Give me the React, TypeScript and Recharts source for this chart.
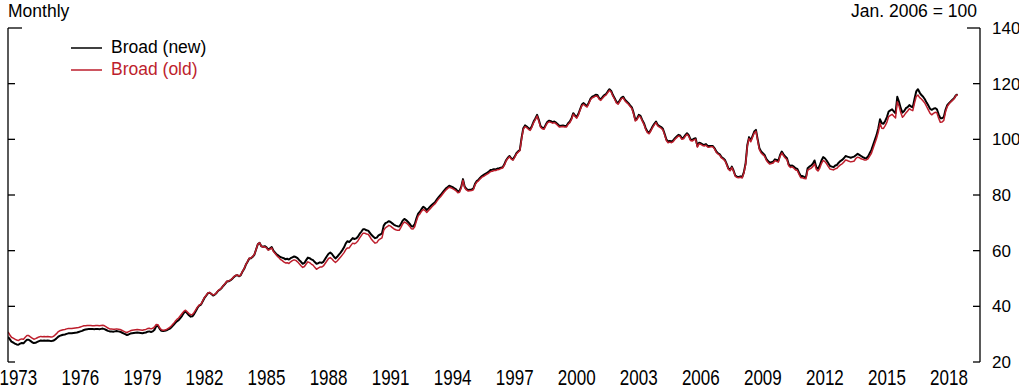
import { LineChart, Line, XAxis, YAxis, Legend } from "recharts";

const FONT = "'Liberation Sans', Arial, Helvetica, sans-serif";
const RED = "#bd1e2c";

// monthly values, Jan 1973 .. Dec 2018 (Jan. 2006 = 100)
const START_YEAR = 1973;

const broadNew = [
  29.0, 28.2, 27.3, 27.0, 26.6, 26.3, 26.2, 26.6, 26.8, 26.7, 27.4, 28.0, // 1973
  28.0, 27.6, 27.1, 26.8, 26.9, 27.2, 27.5, 27.7, 27.6, 27.7, 27.6, 27.7,
  27.6, 27.5, 27.6, 27.9, 28.4, 29.0, 29.4, 29.6, 29.8, 29.9, 30.1, 30.3,
  30.3, 30.3, 30.4, 30.5, 30.6, 30.8, 31.0, 31.2, 31.5, 31.7, 31.8, 31.9,
  31.9, 31.9, 31.8, 31.9, 31.9, 31.8, 31.9, 32.0, 31.8, 31.5, 31.2, 31.0,
  31.0, 30.9, 31.0, 31.1, 31.0, 30.9, 30.6, 30.3, 30.0, 29.7, 29.9, 30.2, // 1978
  30.3, 30.4, 30.5, 30.6, 30.5, 30.4, 30.3, 30.5, 30.6, 30.9, 31.0, 30.8,
  31.0, 31.6, 32.8, 33.0, 31.9, 31.2, 31.1, 31.2, 31.4, 31.7, 32.0, 32.6,
  33.3, 34.0, 34.6, 35.0, 35.8, 36.6, 37.6, 38.2, 37.5, 36.8, 36.3, 36.4,
  37.2, 38.3, 39.5, 40.3, 40.6, 41.8, 43.0, 43.8, 44.7, 44.9, 44.4, 43.9,
  44.2, 44.8, 45.6, 46.0, 46.6, 47.4, 48.1, 48.9, 49.0, 49.3, 49.8, 50.5, // 1983
  51.0, 51.2, 50.8, 51.1, 52.4, 53.4, 54.9, 56.0, 57.2, 57.3, 57.8, 58.6,
  60.5, 62.4, 62.8, 61.6, 61.4, 61.6, 61.2, 60.4, 60.8, 61.3, 60.0, 59.3,
  58.6, 58.2, 57.7, 57.5, 57.3, 56.9, 57.1, 56.8, 57.3, 57.6, 57.9, 57.7,
  57.3, 56.6, 56.0, 55.3, 55.6, 56.6, 57.5, 57.3, 56.9, 56.6, 55.9, 55.3,
  55.5, 55.8, 55.6, 56.0, 57.0, 58.0, 58.9, 59.3, 58.8, 57.9, 57.2, 57.8, // 1988
  58.6, 59.3, 60.2, 61.2, 62.6, 63.4, 63.1, 63.8, 64.5, 64.2, 64.4, 65.0,
  66.0, 66.8, 67.7, 67.7, 67.3, 67.2, 66.4, 65.6, 65.0, 64.5, 64.7, 65.5,
  65.8, 66.2, 69.0, 69.9, 70.2, 70.6, 70.3, 69.8, 69.3, 69.0, 68.8, 68.7,
  69.6, 70.8, 71.4, 71.0, 70.4, 69.7, 68.8, 68.7, 69.5, 71.6, 73.3, 74.0,
  75.0, 75.8, 75.3, 74.6, 75.2, 75.9, 76.5, 77.0, 77.6, 78.5, 79.3, 80.0, // 1993
  80.8, 81.6, 82.3, 82.8, 83.3, 83.1, 82.8, 82.4, 82.0, 81.3, 81.5, 83.0,
  85.7, 83.0, 82.2, 81.8, 81.9, 82.0, 82.3, 84.0, 85.0, 85.5, 86.2, 86.8,
  87.2, 87.6, 88.0, 88.4, 89.0, 89.1, 89.3, 89.2, 89.5, 89.6, 89.8, 90.0,
  91.0, 92.5, 93.4, 94.0, 93.2, 92.8, 93.8, 95.0, 95.7, 96.2, 100.5, 104.0,
  105.0, 104.6, 104.0, 103.6, 104.8, 106.4, 107.5, 108.8, 107.0, 104.8, 104.2, 104.0, // 1998
  105.2, 106.3, 106.7, 106.5, 106.2, 106.4, 106.0, 105.4, 104.8, 104.9, 105.0, 104.8,
  104.8, 105.8, 106.4, 107.6, 109.4, 108.6, 108.0, 109.2, 110.9, 112.5, 113.0, 112.4,
  112.0, 113.2, 114.6, 115.3, 115.6, 116.0, 115.9, 114.8, 114.4, 115.2, 115.9, 116.3,
  117.2, 118.0, 117.4, 115.9, 114.8, 113.5, 113.0, 114.0, 115.0, 115.3, 114.2, 113.6,
  113.0, 112.2, 111.5, 109.5, 107.0, 107.5, 108.8, 108.4, 107.0, 105.8, 104.0, 102.8, // 2003
  102.4, 103.4, 104.6, 105.6, 106.4, 105.2, 104.8, 104.4, 103.8, 102.0, 100.0, 99.2,
  99.4, 99.2, 99.6, 100.4, 101.0, 101.6, 101.4, 100.4, 100.6, 101.5, 102.2, 101.5,
  100.0, 99.8, 100.2, 100.4, 97.6, 98.8, 98.6, 98.2, 98.0, 98.3, 97.6, 97.6,
  97.6, 97.6, 96.8, 95.6, 95.0, 94.6, 93.6, 93.2, 92.6, 91.2, 89.6, 89.0,
  90.2, 88.8, 87.0, 86.6, 86.5, 86.7, 86.4, 88.2, 91.4, 98.0, 100.8, 99.6, // 2008
  101.2, 102.8, 103.4, 100.0, 96.8, 95.6, 95.0, 94.4, 93.0, 92.2, 91.6, 91.8,
  92.0, 92.8, 92.6, 92.3, 94.4, 95.6, 94.6, 93.8, 93.2, 91.0, 90.4, 90.6,
  90.2, 89.6, 89.4, 88.0, 86.8, 86.8, 86.5, 86.4, 89.6, 90.2, 90.6, 91.2,
  92.4, 90.0, 89.4, 90.6, 92.4, 93.6, 93.2, 92.4, 91.4, 90.4, 90.2, 90.0,
  90.6, 90.8, 91.6, 92.2, 92.6, 93.2, 94.0, 93.8, 93.6, 93.4, 93.6, 93.8, // 2013
  94.3, 94.8, 94.4, 94.0, 93.6, 93.3, 93.2, 93.8, 95.0, 96.2, 98.0, 99.8,
  101.6, 104.0, 107.2, 105.8, 105.6, 106.6, 108.0, 110.0, 110.4, 110.8, 110.0, 109.4,
  115.3, 113.5, 111.2, 109.6, 110.2, 111.2, 111.6, 112.3, 111.8, 111.5, 114.5, 117.2,
  118.0, 116.8, 115.9, 115.3, 114.4, 113.2, 112.2, 111.0, 110.6, 111.0, 111.2, 110.8,
  109.0, 107.6, 107.6, 108.0, 110.6, 112.3, 113.0, 113.6, 114.2, 114.8, 115.8, 116.2, // 2018
];

const broadOld = [
  30.8, 29.8, 28.9, 28.6, 28.2, 27.9, 27.7, 28.1, 28.3, 28.2, 28.9, 29.5, // 1973
  29.5, 29.0, 28.6, 28.2, 28.4, 28.7, 29.0, 29.2, 29.1, 29.2, 29.1, 29.2,
  29.1, 29.0, 29.1, 29.5, 30.1, 30.8, 31.2, 31.4, 31.6, 31.7, 31.9, 32.0,
  32.0, 32.0, 32.1, 32.2, 32.3, 32.4, 32.6, 32.8, 33.0, 33.0, 33.1, 33.1,
  33.1, 33.0, 33.0, 33.1, 33.1, 33.0, 33.1, 33.2, 33.0, 32.6, 32.2, 31.9,
  31.9, 31.8, 31.8, 31.9, 31.8, 31.7, 31.4, 31.1, 30.8, 30.6, 30.9, 31.2, // 1978
  31.4, 31.5, 31.6, 31.7, 31.6, 31.5, 31.4, 31.6, 31.7, 32.0, 32.1, 31.9,
  32.1, 32.6, 33.5, 33.4, 32.3, 31.6, 31.4, 31.5, 31.7, 32.1, 32.5, 33.1,
  33.8, 34.6, 35.3, 35.8, 36.6, 37.4, 38.2, 38.6, 38.0, 37.4, 37.0, 37.1,
  37.8, 38.8, 39.8, 40.5, 40.8, 42.0, 43.2, 44.0, 44.8, 45.0, 44.5, 44.1,
  44.3, 44.9, 45.7, 46.1, 46.7, 47.5, 48.2, 49.0, 49.1, 49.4, 49.9, 50.6, // 1983
  51.1, 51.3, 50.9, 51.2, 52.5, 53.5, 55.0, 56.1, 57.3, 57.4, 57.9, 58.7,
  60.5, 62.4, 62.8, 61.6, 61.3, 61.4, 61.0, 60.2, 60.5, 61.0, 59.7, 59.0,
  58.2, 57.6, 56.9, 56.5, 56.0, 55.6, 55.7, 55.4, 56.0, 56.4, 56.7, 56.5,
  56.0, 55.3, 54.6, 54.0, 54.3, 55.2, 56.0, 55.7, 55.2, 54.8, 54.0, 53.3,
  53.7, 54.1, 54.1, 54.5, 55.4, 56.3, 57.2, 57.5, 57.0, 56.3, 55.8, 56.3, // 1988
  57.0, 57.7, 58.5, 59.3, 60.4, 61.0, 61.0, 61.9, 62.7, 62.5, 62.8, 63.5,
  64.5, 65.4, 66.3, 66.3, 66.0, 65.9, 65.0, 64.0, 63.3, 62.7, 62.9, 63.8,
  64.2, 64.6, 67.3, 68.2, 68.6, 69.1, 68.8, 68.3, 67.8, 67.5, 67.3, 67.3,
  68.4, 69.6, 70.3, 70.0, 69.5, 68.8, 67.9, 67.8, 68.6, 70.7, 72.5, 73.2,
  74.2, 74.8, 74.4, 73.7, 74.4, 75.1, 75.8, 76.4, 77.0, 77.9, 78.7, 79.4, // 1993
  80.2, 81.0, 81.7, 82.3, 82.8, 82.6, 82.3, 81.9, 81.5, 80.8, 81.0, 82.6,
  85.3, 82.6, 81.8, 81.4, 81.5, 81.6, 81.9, 83.6, 84.6, 85.1, 85.8, 86.4,
  86.7, 87.1, 87.5, 87.9, 88.4, 88.5, 88.8, 88.8, 89.1, 89.2, 89.5, 89.7,
  90.7, 92.2, 93.1, 93.7, 92.9, 92.5, 93.5, 94.7, 95.4, 95.9, 100.1, 103.6,
  104.6, 104.2, 103.6, 103.2, 104.4, 106.0, 107.1, 108.4, 106.6, 104.4, 103.8, 103.6, // 1998
  104.8, 105.9, 106.3, 106.1, 105.8, 106.0, 105.6, 105.0, 104.4, 104.5, 104.6, 104.4,
  104.4, 105.4, 106.0, 107.2, 109.0, 108.2, 107.6, 108.8, 110.5, 112.1, 112.6, 112.0,
  111.6, 112.8, 114.2, 114.9, 115.2, 115.6, 115.5, 114.4, 114.0, 114.8, 115.5, 115.9,
  116.8, 117.6, 117.0, 115.5, 114.4, 113.1, 112.6, 113.6, 114.6, 114.9, 113.8, 113.2,
  112.6, 111.8, 111.1, 109.1, 106.6, 107.1, 108.4, 108.0, 106.6, 105.4, 103.6, 102.4, // 2003
  102.0, 103.0, 104.2, 105.2, 106.0, 104.8, 104.4, 104.0, 103.4, 101.6, 99.6, 98.8,
  99.0, 98.8, 99.2, 100.0, 100.6, 101.2, 101.0, 100.0, 100.2, 101.1, 101.8, 101.1,
  99.6, 99.4, 99.8, 100.0, 97.2, 98.4, 98.2, 97.8, 97.6, 97.9, 97.2, 97.2,
  97.3, 97.3, 96.5, 95.3, 94.7, 94.3, 93.3, 92.9, 92.3, 90.9, 89.3, 88.7,
  89.9, 88.5, 86.7, 86.3, 86.2, 86.4, 86.1, 87.9, 91.0, 97.6, 100.3, 99.1, // 2008
  100.7, 102.3, 102.9, 99.5, 96.3, 95.1, 94.5, 93.9, 92.5, 91.7, 91.1, 91.3,
  91.5, 92.3, 92.1, 91.8, 93.9, 95.1, 94.1, 93.3, 92.7, 90.5, 89.9, 90.1,
  89.6, 89.0, 88.8, 87.4, 86.2, 86.2, 85.9, 85.8, 88.9, 89.3, 89.6, 90.2,
  91.2, 89.2, 88.6, 89.6, 91.3, 92.4, 92.0, 91.2, 90.2, 89.3, 89.2, 89.0,
  89.4, 89.6, 90.3, 90.8, 91.2, 91.8, 92.6, 92.4, 92.1, 91.9, 92.0, 92.2, // 2013
  93.2, 93.6, 93.4, 93.0, 92.8, 92.6, 92.6, 93.0, 94.0, 95.0, 96.8, 98.6,
  100.4, 102.6, 105.8, 104.0, 103.9, 104.9, 106.2, 108.2, 108.6, 109.0, 108.3, 107.7,
  113.5, 112.0, 109.6, 107.9, 108.6, 109.5, 110.2, 111.0, 110.6, 110.3, 113.0, 115.4,
  115.9, 115.0, 114.5, 113.8, 113.0, 111.8, 110.6, 109.4, 108.8, 109.3, 109.7, 109.5,
  107.6, 106.1, 106.2, 106.8, 109.9, 111.8, 112.7, 113.4, 114.0, 114.6, 115.7, 116.1, // 2018
];

const yearTicks = [
  1973, 1974, 1975, 1976, 1977, 1978, 1979, 1980, 1981, 1982, 1983, 1984,
  1985, 1986, 1987, 1988, 1989, 1990, 1991, 1992, 1993, 1994, 1995, 1996,
  1997, 1998, 1999, 2000, 2001, 2002, 2003, 2004, 2005, 2006, 2007, 2008,
  2009, 2010, 2011, 2012, 2013, 2014, 2015, 2016, 2017, 2018, 2019, 2020,
];
const labelYears = [1973, 1976, 1979, 1982, 1985, 1988, 1991, 1994, 1997, 2000, 2003, 2006, 2009, 2012, 2015, 2018];
const valueTicks = [20, 40, 60, 80, 100, 120, 140];

const data = broadNew.map((v, i) => ({
  t: START_YEAR + i / 12,
  broadNew: v,
  broadOld: broadOld[i],
}));

// labels sit in the middle of each year
const labelTicks = labelYears.map((y) => y + 0.5);

const TICK_STROKE = { stroke: "#000", strokeWidth: 1.3 };

// tick marks point into the plot; the top one is a bit longer
function BottomMark({ x, y }: any) {
  return <line x1={x} x2={x} y1={y} y2={y - 5} {...TICK_STROKE} />;
}
function RightMark({ x, y, payload }: any) {
  const len = payload.value === 140 ? 13 : 7;
  return <line x1={x} x2={x - len} y1={y} y2={y} {...TICK_STROKE} />;
}
function LeftMark({ x, y, payload }: any) {
  const len = payload.value === 140 ? 14 : 7;
  return <line x1={x} x2={x + len} y1={y} y2={y} {...TICK_STROKE} />;
}

function YearLabel({ x, y, payload }: any) {
  return (
    <g transform={`translate(${x},${y + 23}) scale(1,1.25)`}>
      <text x={0} y={0} textAnchor="middle" fontSize={17} fill="#000" fontFamily={FONT}>
        {Math.floor(payload.value)}
      </text>
    </g>
  );
}

function LegendBox({ payload }: any) {
  return (
    <div style={{ fontFamily: FONT, fontSize: 17.5 }}>
      {(payload || []).map((p: any) => (
        <div key={p.value} style={{ display: "flex", alignItems: "center", height: 21.7 }}>
          <svg width={31} height={4} style={{ marginRight: 9 }}>
            <line x1={0} x2={31} y1={2} y2={2} stroke={p.color} strokeWidth={1.5} />
          </svg>
          <span style={{ color: p.color, lineHeight: "21.7px" }}>{p.value}</span>
        </div>
      ))}
    </div>
  );
}

export default function App() {
  return (
    <div style={{ position: "absolute", left: 0, top: 0, width: 1019, height: 389, background: "#fff", fontFamily: FONT }}>
      <div style={{ position: "absolute", left: 8, top: 1, fontSize: 17.5, lineHeight: "20px" }}>Monthly</div>
      <div style={{ position: "absolute", right: 42, top: 1, fontSize: 17.5, lineHeight: "20px" }}>Jan. 2006 = 100</div>
      <LineChart width={1019} height={389} data={data} margin={{ top: 28, right: 0, bottom: 0, left: 8 }}>
        <XAxis
          xAxisId="years"
          dataKey="t"
          type="number"
          domain={[1973, 2020]}
          allowDataOverflow
          ticks={yearTicks}
          interval={0}
          mirror
          height={0}
          tickSize={0}
          tickMargin={0}
          tickLine={false}
          tick={<BottomMark />}
          axisLine={TICK_STROKE}
        />
        <XAxis
          xAxisId="labels"
          dataKey="t"
          type="number"
          domain={[1973, 2020]}
          allowDataOverflow
          ticks={labelTicks}
          interval={0}
          height={27}
          axisLine={false}
          tickLine={false}
          tickSize={0}
          tickMargin={0}
          tick={<YearLabel />}
        />
        <YAxis
          yAxisId="val"
          orientation="right"
          mirror
          type="number"
          domain={[20, 140]}
          allowDataOverflow
          ticks={valueTicks}
          interval={0}
          tickSize={0}
          tickMargin={0}
          tickLine={false}
          tick={<RightMark />}
          axisLine={TICK_STROKE}
        />
        <YAxis
          yAxisId="labels"
          orientation="right"
          width={39}
          type="number"
          domain={[20, 140]}
          allowDataOverflow
          ticks={valueTicks}
          interval={0}
          axisLine={false}
          tickLine={false}
          tickSize={0}
          tickMargin={12}
          tick={{ fill: "#000", fontSize: 17, fontFamily: FONT }}
        />
        <YAxis
          yAxisId="left"
          orientation="left"
          mirror
          type="number"
          domain={[20, 140]}
          allowDataOverflow
          ticks={valueTicks}
          interval={0}
          tickSize={0}
          tickMargin={0}
          tickLine={false}
          tick={<LeftMark />}
          axisLine={TICK_STROKE}
        />
        <Line
          xAxisId="years"
          yAxisId="val"
          dataKey="broadNew"
          name="Broad (new)"
          stroke="#000"
          strokeWidth={2}
          dot={false}
          strokeLinejoin="round"
          isAnimationActive={false}
        />
        <Line
          xAxisId="years"
          yAxisId="val"
          dataKey="broadOld"
          name="Broad (old)"
          stroke={RED}
          strokeWidth={1.5}
          dot={false}
          strokeLinejoin="round"
          isAnimationActive={false}
        />
        {/* centred + middle keeps the legend from taking plot space; placed by wrapperStyle */}
        <Legend
          layout="vertical"
          verticalAlign="middle"
          align="center"
          content={<LegendBox />}
          wrapperStyle={{ left: 71, top: 37, width: 220 }}
        />
      </LineChart>
    </div>
  );
}
